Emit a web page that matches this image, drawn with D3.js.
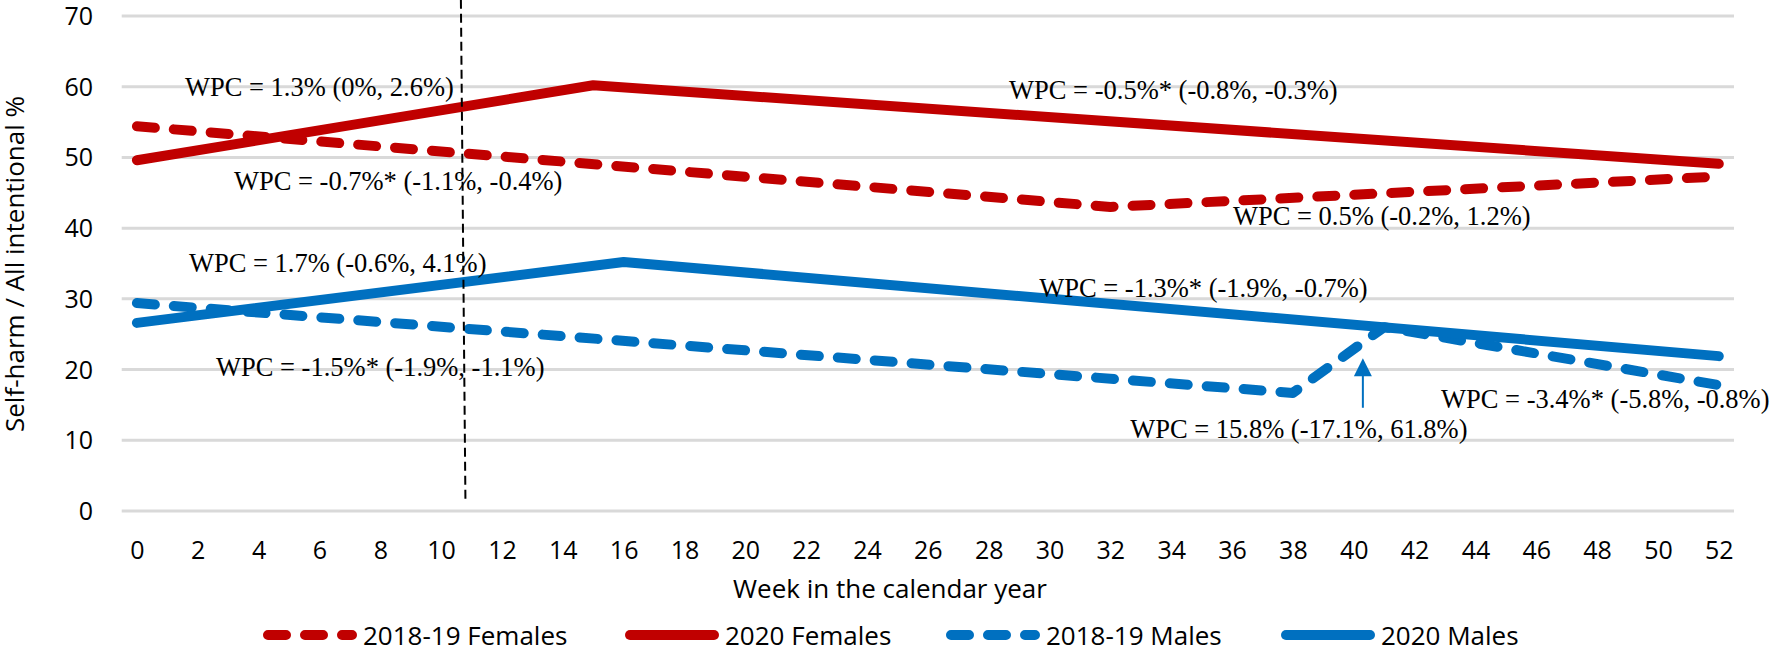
<!DOCTYPE html>
<html>
<head>
<meta charset="utf-8">
<script src="https://cdn.jsdelivr.net/npm/d3@7"></script>
<style>
body { margin: 0; background: #fff; }
</style>
</head>
<body>
<script>
// weeks on the category axis, labels on every second week
var weeks = d3.range(0, 53);
var weekTicks = d3.range(0, 53, 2);
var valueTicks = [0, 10, 20, 30, 40, 50, 60, 70];

// joinpoint trend lines (week, value)
var fem1819Weeks = [0, 32, 52];
var fem1819Values = [54.4, 43.0, 47.3];
var fem2020Weeks = [0, 15, 52];
var fem2020Values = [49.6, 60.2, 49.1];
var male1819Weeks = [0, 38, 41, 52];
var male1819Values = [29.4, 16.7, 26.0, 17.8];
var male2020Weeks = [0, 16, 52];
var male2020Values = [26.6, 35.2, 21.9];

var seriesNames = ["2018-19 Females", "2020 Females", "2018-19 Males", "2020 Males"];

// WPC labels and where they sit (week, value of baseline)
var wpcTexts = [
  "WPC = 1.3% (0%, 2.6%)",
  "WPC = -0.7%* (-1.1%, -0.4%)",
  "WPC = 1.7% (-0.6%, 4.1%)",
  "WPC = -1.5%* (-1.9%, -1.1%)",
  "WPC = -0.5%* (-0.8%, -0.3%)",
  "WPC = 0.5% (-0.2%, 1.2%)",
  "WPC = -1.3%* (-1.9%, -0.7%)",
  "WPC = 15.8% (-17.1%, 61.8%)",
  "WPC = -3.4%* (-5.8%, -0.8%)"
];
var wpcWeeks = [1.58, 3.19, 1.71, 2.60, 28.67, 36.03, 29.66, 32.65, 42.87];
var wpcValues = [58.7, 45.4, 33.8, 19.1, 58.3, 40.4, 30.3, 10.3, 14.6];

// lockdown marker and arrow
var markerWeeks = [10.65, 10.8];
var markerValues = [72.3, 1.1];
var arrowWeek = 40.3;
var arrowValues = [14.6, 21.6];

var red = "#c00000", blue = "#0070c0";
var sansFont = "'Open Sans', 'Noto Sans', sans-serif";
var serifFont = "'Liberation Serif', 'DejaVu Serif', serif";

var W = 1772, H = 653;
var svg = d3.select("body").append("svg")
    .attr("width", W)
    .attr("height", H);

var x = d3.scaleLinear().domain([-0.5, 52.5]).range([121.7, 1734]);
var y = d3.scaleLinear().domain([0, 70]).range([511, 16]);

// gridlines
svg.append("g").selectAll("line")
    .data(valueTicks)
  .enter().append("line")
    .attr("x1", x(-0.5))
    .attr("x2", x(52.5))
    .attr("y1", function(d){ return y(d); })
    .attr("y2", function(d){ return y(d); })
    .attr("stroke", "#d9d9d9")
    .attr("stroke-width", 3);

// axes (labels only)
var yAxis = svg.append("g")
    .attr("transform", "translate(93,0)")
    .call(d3.axisLeft(y).tickValues(valueTicks).tickSize(0).tickPadding(0));
yAxis.select(".domain").remove();
yAxis.attr("font-family", sansFont).attr("font-size", 25);
yAxis.selectAll("text").attr("fill", "#000").attr("dy", "0.34em");

var xAxis = svg.append("g")
    .attr("transform", "translate(0,541)")
    .call(d3.axisBottom(x).tickValues(weekTicks).tickSize(0).tickPadding(0));
xAxis.select(".domain").remove();
xAxis.attr("font-family", sansFont).attr("font-size", 25);
xAxis.selectAll("text").attr("fill", "#000");

svg.append("text")
    .attr("x", 890)
    .attr("y", 598)
    .attr("text-anchor", "middle")
    .attr("font-family", sansFont)
    .attr("font-size", 26)
    .text("Week in the calendar year");

svg.append("text")
    .attr("transform", "translate(24," + 264 + ") rotate(-90)")
    .attr("text-anchor", "middle")
    .attr("font-family", sansFont)
    .attr("font-size", 26)
    .text("Self-harm / All intentional %");

// series
var series = [
  {name: seriesNames[0], weeks: fem1819Weeks, values: fem1819Values, color: red, dashed: true},
  {name: seriesNames[1], weeks: fem2020Weeks, values: fem2020Values, color: red, dashed: false},
  {name: seriesNames[2], weeks: male1819Weeks, values: male1819Values, color: blue, dashed: true},
  {name: seriesNames[3], weeks: male2020Weeks, values: male2020Values, color: blue, dashed: false}
];

var line = d3.line()
    .x(function(d){ return x(d[0]); })
    .y(function(d){ return y(d[1]); });

svg.append("g").selectAll("path")
    .data(series)
  .enter().append("path")
    .attr("d", function(s){ return line(d3.zip(s.weeks, s.values)); })
    .attr("fill", "none")
    .attr("stroke", function(s){ return s.color; })
    .attr("stroke-width", 10)
    .attr("stroke-linecap", "round")
    .attr("stroke-linejoin", "round")
    .attr("stroke-dasharray", function(s){ return s.dashed ? "18,19" : null; });

// dashed marker line
svg.append("line")
    .attr("x1", x(markerWeeks[0]))
    .attr("y1", y(markerValues[0]))
    .attr("x2", x(markerWeeks[1]))
    .attr("y2", y(markerValues[1]))
    .attr("stroke", "#000")
    .attr("stroke-width", 2)
    .attr("stroke-dasharray", "9,5");

// arrow to the 15.8% segment
var ax = x(arrowWeek), aTip = y(arrowValues[1]);
svg.append("line")
    .attr("x1", ax).attr("x2", ax)
    .attr("y1", y(arrowValues[0]))
    .attr("y2", aTip + 16)
    .attr("stroke", blue)
    .attr("stroke-width", 2);
svg.append("path")
    .attr("d", "M" + ax + "," + aTip + "L" + (ax - 9) + "," + (aTip + 18) + "L" + (ax + 9) + "," + (aTip + 18) + "Z")
    .attr("fill", blue);

// WPC labels
svg.append("g").selectAll("text")
    .data(wpcTexts)
  .enter().append("text")
    .attr("x", function(d, i){ return x(wpcWeeks[i]); })
    .attr("y", function(d, i){ return y(wpcValues[i]); })
    .attr("font-family", serifFont)
    .attr("font-size", 26.5)
    .attr("fill", "#000")
    .text(function(d){ return d; });

// legend
var legendX = [263, 625, 946, 1281];
var legend = svg.append("g").selectAll("g")
    .data(series)
  .enter().append("g")
    .attr("transform", function(d, i){ return "translate(" + legendX[i] + ",635)"; });
legend.append("line")
    .attr("x1", 5).attr("x2", 89)
    .attr("y1", 0).attr("y2", 0)
    .attr("stroke", function(s){ return s.color; })
    .attr("stroke-width", 10)
    .attr("stroke-linecap", "round")
    .attr("stroke-dasharray", function(s){ return s.dashed ? "18,19" : null; });
legend.append("text")
    .attr("x", 100)
    .attr("y", 10)
    .attr("font-family", sansFont)
    .attr("font-size", 26)
    .attr("fill", "#000")
    .text(function(s){ return s.name; });
</script>
</body>
</html>
